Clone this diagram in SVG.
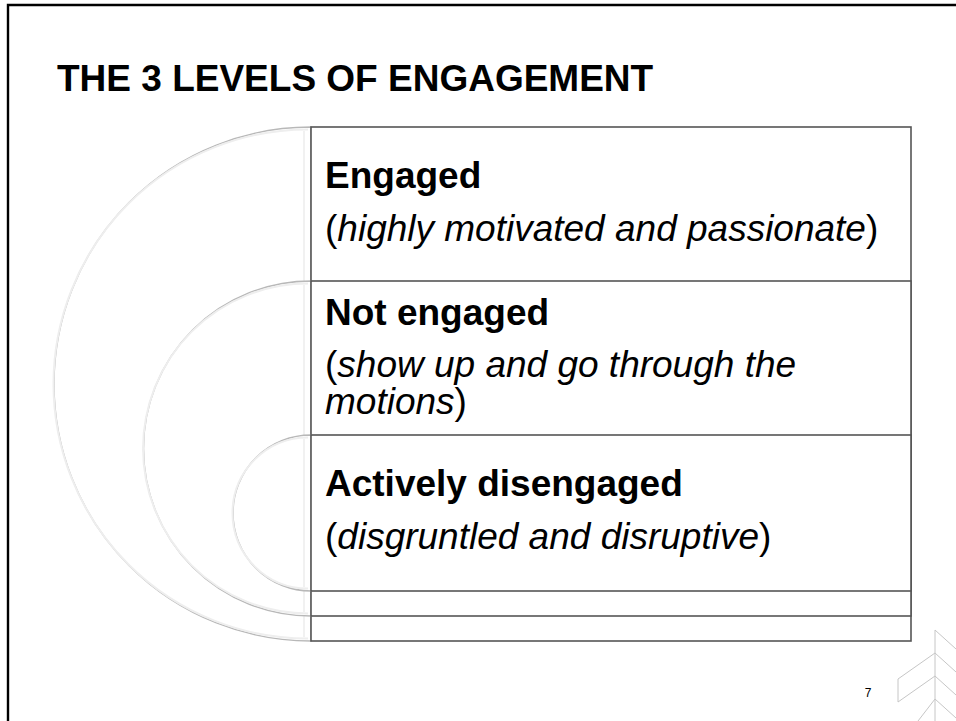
<svg xmlns="http://www.w3.org/2000/svg" width="956" height="721" viewBox="0 0 956 721">
<style>
.title{font-family:"Liberation Sans",Arial,sans-serif;font-weight:bold;font-size:37px;fill:#000}
.head{font-family:"Liberation Sans",Arial,sans-serif;font-weight:bold;font-size:37px;fill:#000}
.desc{font-family:"Liberation Sans",Arial,sans-serif;font-size:37px;fill:#000}
.it{font-style:italic}
.arc{fill:#fff;stroke:#b8b8b8;stroke-width:1.4}
.arcin{fill:none;stroke:#eeeeee;stroke-width:2}
.shade{stroke:#f1f1f1;stroke-width:2}
.box{fill:#fff;stroke:#555;stroke-width:1.6}
.logo{fill:none;stroke:#c6c6c6;stroke-width:1}
</style>
<rect width="956" height="721" fill="#fff"/>
<path d="M8,721 V5 H956" fill="none" stroke="#000" stroke-width="2.4"/>
<text class="title" x="57" y="91">THE 3 LEVELS OF ENGAGEMENT</text>

<g id="engaged">
<path class="arc" d="M311,127 A257,257 0 0 0 311,641 Z"/>
<path class="arcin" d="M308,129.5 A254.5,254.5 0 0 0 308,638.5"/>
<line class="shade" x1="304" y1="131" x2="304" y2="637"/>
<rect class="box" x="311" y="127" width="600" height="514"/>
<text class="head" x="325" y="188">Engaged</text>
<text class="desc" x="325" y="241">(<tspan class="it">highly motivated and passionate</tspan>)</text>
</g>

<g id="not-engaged">
<path class="arc" d="M311,281 A167.5,167.5 0 0 0 311,616 Z"/>
<path class="arcin" d="M308,283.5 A165,165 0 0 0 308,613.5"/>
<line class="shade" x1="304" y1="285" x2="304" y2="612"/>
<rect class="box" x="311" y="281" width="600" height="335"/>
<text class="head" x="325" y="325">Not engaged</text>
<text class="desc" x="325" y="377">(<tspan class="it">show up and go through the</tspan></text>
<text class="desc" x="325" y="414"><tspan class="it">motions</tspan>)</text>
</g>

<g id="actively-disengaged">
<path class="arc" d="M311,435 A78,78 0 0 0 311,591 Z"/>
<path class="arcin" d="M308,437.5 A75.5,75.5 0 0 0 308,588.5"/>
<line class="shade" x1="304" y1="439" x2="304" y2="587"/>
<rect class="box" x="311" y="435" width="600" height="156"/>
<text class="head" x="325" y="496">Actively disengaged</text>
<text class="desc" x="325" y="549">(<tspan class="it">disgruntled and disruptive</tspan>)</text>
</g>

<g id="connectors"></g>

<text x="868" y="697" text-anchor="middle" font-family="Liberation Sans, Arial, sans-serif" font-size="12" fill="#000">7</text>

<g id="logo" class="logo">
<path d="M935,630 V721"/>
<path d="M935,630 L956,649 M935,653 L956,672 M935,676 L956,695 M935,699 L956,718"/>
<path d="M935,653 L898,679 V702 L935,676"/>
<path d="M935,699 L918,721"/>
</g>
</svg>
